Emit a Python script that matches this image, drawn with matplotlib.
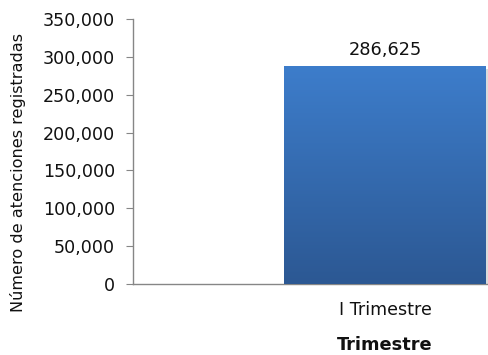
import matplotlib
matplotlib.use("Agg")
import matplotlib.pyplot as plt
import numpy as np
from matplotlib.colors import LinearSegmentedColormap
from matplotlib.ticker import FuncFormatter

plt.rcParams['font.family'] = ['DejaVu Sans']

categories = ["I Trimestre"]
values = [286625]
yticks = [0, 50000, 100000, 150000, 200000, 250000, 300000, 350000]

fig = plt.figure(figsize=(4.88, 3.55), dpi=100)
ax = fig.add_axes([133/488, 1 - 284/355, 1 - 133/488, (284 - 19)/355])

x = np.arange(len(categories))
width = 0.8
bars = ax.bar(x, values, width=width, color='none', edgecolor='none', zorder=3)

# vertical gradient fill for each bar, plus a soft drop shadow
cmap = LinearSegmentedColormap.from_list("blu", ["#2c5893", "#3d7dcb"])
grad = np.linspace(0, 1, 256).reshape(-1, 1)
for b in bars:
    x0, w, h = b.get_x(), b.get_width(), b.get_height()
    ax.bar(x0 + w/2 + 0.012, h, width=w, bottom=-3000, color='#b8b8b8', alpha=0.5,
           zorder=2, edgecolor='none')
    ax.imshow(grad, cmap=cmap, aspect='auto', extent=[x0, x0 + w, 0, h],
              origin='lower', zorder=3)
    ax.text(x0 + w/2, h + 11000, f"{h:,.0f}", ha='center', va='bottom',
            fontsize=12.8, color='#111111')

ax.set_xlim(-1.0, 0.406)
ax.set_ylim(0, 350000)
ax.set_yticks(yticks)
ax.yaxis.set_major_formatter(FuncFormatter(lambda v, p: f"{v:,.0f}"))
ax.set_xticks(x)
ax.set_xticklabels(categories)
ax.tick_params(axis='y', length=5, color='#868686', labelsize=12.6, pad=8, labelcolor='#111111')
ax.tick_params(axis='x', length=0, labelsize=12.6, pad=12, labelcolor='#111111')

for s in ['top', 'right']:
    ax.spines[s].set_visible(False)
for s in ['left', 'bottom']:
    ax.spines[s].set_color('#868686')
    ax.spines[s].set_linewidth(1.0)

fig.text(18/488, 1 - 173/355, "Número de atenciones registradas", rotation=90,
         ha='center', va='center', fontsize=11.6, color='#111111')
fig.text(385/488, 1 - 345/355, "Trimestre", ha='center', va='center',
         fontsize=12.8, fontweight='bold', color='#111111')

fig.savefig("out.png", dpi=100)
